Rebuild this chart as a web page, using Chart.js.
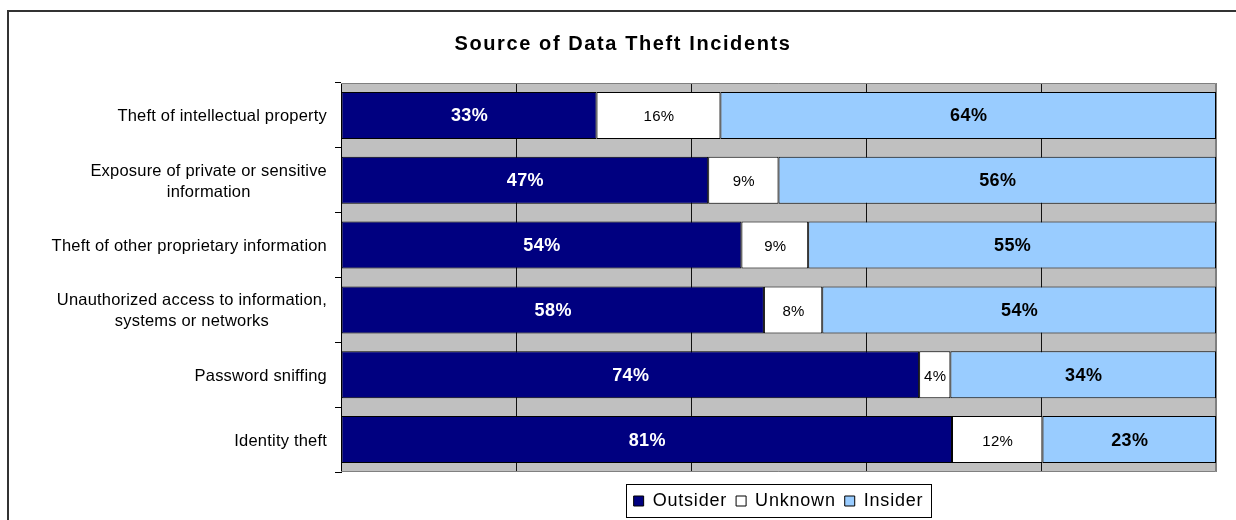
<!DOCTYPE html>
<html>
<head>
<meta charset="utf-8">
<title>Source of Data Theft Incidents</title>
<script src="https://cdn.jsdelivr.net/npm/chart.js@4.4.1/dist/chart.umd.min.js"></script>
<style>
  html, body { margin: 0; padding: 0; background: #fff; }
  canvas { display: block; }
</style>
</head>
<body>
<canvas id="chart" width="1236" height="520"></canvas>
<script>
const chartTitle = 'Source of Data Theft Incidents';
const categories = [
  'Theft of intellectual property',
  ['Exposure of private or sensitive', 'information'],
  'Theft of other proprietary information',
  ['Unauthorized access to information,', 'systems or networks'],
  'Password sniffing',
  'Identity theft'
];
const outsider = [33, 47, 54, 58, 74, 81];
const unknown = [16, 9, 9, 8, 4, 12];
const insider = [64, 56, 55, 54, 34, 23];
const seriesNames = ['Outsider', 'Unknown', 'Insider'];
const gridSteps = [0, 20, 40, 60, 80, 100];

// every row is drawn as a 100% stacked bar, labels keep the raw numbers
const totals = outsider.map((v, i) => v + unknown[i] + insider[i]);
const share = arr => arr.map((v, i) => v / totals[i] * 100);

const FONT = "'Liberation Sans', Arial, sans-serif";
const LEGEND_SPACING = '0.8px';
Chart.defaults.font.family = FONT;
Chart.defaults.color = '#000';

// grey plot background + outline
const plotFrame = {
  id: 'plotFrame',
  beforeLayout(chart) { chart.ctx.letterSpacing = LEGEND_SPACING; },
  beforeDraw(chart) {
    const { ctx, chartArea: a } = chart;
    ctx.save();
    ctx.fillStyle = '#fff';
    ctx.fillRect(0, 0, chart.width, chart.height);
    ctx.strokeStyle = '#333';
    ctx.lineWidth = 2;
    ctx.strokeRect(8, 11, 1400, 800);
    ctx.fillStyle = '#C0C0C0';
    ctx.fillRect(a.left, a.top, a.right - a.left, a.bottom - a.top);
    ctx.restore();
    ctx.letterSpacing = LEGEND_SPACING;
  },
  beforeDatasetsDraw(chart) {
    const { ctx, chartArea: a } = chart;
    ctx.save();
    ctx.strokeStyle = '#808080';
    ctx.lineWidth = 1;
    ctx.beginPath();
    ctx.moveTo(a.left, a.top + 0.5);
    ctx.lineTo(a.right - 0.5, a.top + 0.5);
    ctx.lineTo(a.right - 0.5, a.bottom - 0.5);
    ctx.lineTo(a.left, a.bottom - 0.5);
    ctx.stroke();
    ctx.restore();
  }
};

// value labels inside the bars
const barLabels = {
  id: 'barLabels',
  afterDatasetsDraw(chart) {
    const ctx = chart.ctx;
    ctx.save();
    ctx.textAlign = 'center';
    ctx.textBaseline = 'alphabetic';
    chart.data.datasets.forEach((ds, d) => {
      chart.getDatasetMeta(d).data.forEach((bar, i) => {
        ctx.font = ds.labelFont;
        ctx.letterSpacing = ds.labelSpacing;
        ctx.fillStyle = ds.labelColor;
        ctx.fillText(ds.raw[i] + '%', (bar.x + bar.base) / 2 + 0.5, bar.y + 6);
      });
    });
    ctx.restore();
  }
};

// title, category labels and legend frame
const textLayer = {
  id: 'textLayer',
  afterDraw(chart) {
    const { ctx, chartArea: a } = chart;
    const yScale = chart.scales.y;
    ctx.save();
    ctx.fillStyle = '#000';

    ctx.font = 'bold 20px ' + FONT;
    ctx.letterSpacing = '1.6px';
    ctx.textAlign = 'center';
    ctx.textBaseline = 'alphabetic';
    ctx.fillText(chartTitle, 623, 50);

    ctx.font = '16.5px ' + FONT;
    ctx.letterSpacing = '0.2px';
    categories.forEach((lab, i) => {
      const lines = Array.isArray(lab) ? lab : [lab];
      const w = Math.max(...lines.map(l => ctx.measureText(l).width));
      const cx = a.left - 14 - w / 2;
      const cy = yScale.getPixelForValue(i);
      lines.forEach((l, k) => {
        ctx.fillText(l, cx, cy + (k - (lines.length - 1) / 2) * 21 + 6);
      });
    });

    const hb = chart.legend.legendHitBoxes;
    if (hb && hb.length) {
      const left = hb[0].left - 8;
      const last = hb[hb.length - 1];
      const right = last.left + last.width + 7;
      const mid = hb[0].top + hb[0].height / 2;
      ctx.strokeStyle = '#000';
      ctx.lineWidth = 1;
      ctx.strokeRect(Math.round(left) + 0.5, Math.round(mid - 17) + 0.5,
        Math.round(right - left), 33);
    }
    ctx.restore();
  }
};

new Chart(document.getElementById('chart'), {
  type: 'bar',
  data: {
    labels: categories,
    datasets: [
      { label: seriesNames[0], data: share(outsider), raw: outsider,
        backgroundColor: '#000080', labelColor: '#fff',
        labelFont: 'bold 18px ' + FONT, labelSpacing: '0.4px' },
      { label: seriesNames[1], data: share(unknown), raw: unknown,
        backgroundColor: '#ffffff', labelColor: '#000',
        labelFont: '15px ' + FONT, labelSpacing: '0.3px' },
      { label: seriesNames[2], data: share(insider), raw: insider,
        backgroundColor: '#99CCFF', labelColor: '#000',
        labelFont: 'bold 18px ' + FONT, labelSpacing: '0.4px' }
    ].map(ds => Object.assign(ds, {
      borderColor: '#000',
      borderWidth: 1,
      borderSkipped: false,
      barPercentage: 0.725,
      categoryPercentage: 1
    }))
  },
  options: {
    indexAxis: 'y',
    responsive: false,
    animation: false,
    layout: { padding: { left: 0, right: 20, top: 83, bottom: 0 } },
    plugins: {
      title: { display: false },
      tooltip: { enabled: false },
      legend: {
        position: 'bottom',
        fullSize: false,
        labels: {
          boxWidth: 10,
          boxHeight: 10,
          padding: 9,
          color: '#000',
          font: { size: 18 }
        }
      }
    },
    scales: {
      x: {
        stacked: true,
        min: gridSteps[0],
        max: gridSteps[gridSteps.length - 1],
        afterBuildTicks: s => { s.ticks = gridSteps.map(v => ({ value: v })); },
        afterFit: s => { s.height = 11; },
        ticks: { display: false },
        border: { display: false },
        grid: {
          drawTicks: false,
          color: c => (c.index === gridSteps.length - 1 ? '#808080' : '#111'),
          lineWidth: 1
        }
      },
      y: {
        stacked: true,
        afterFit: s => { s.width = 341; },
        ticks: { display: false },
        border: { display: true, color: '#000', width: 1 },
        grid: {
          offset: true,
          drawOnChartArea: false,
          drawTicks: true,
          tickLength: 6,
          color: '#000'
        }
      }
    }
  },
  plugins: [plotFrame, barLabels, textLayer]
});
</script>
</body>
</html>
